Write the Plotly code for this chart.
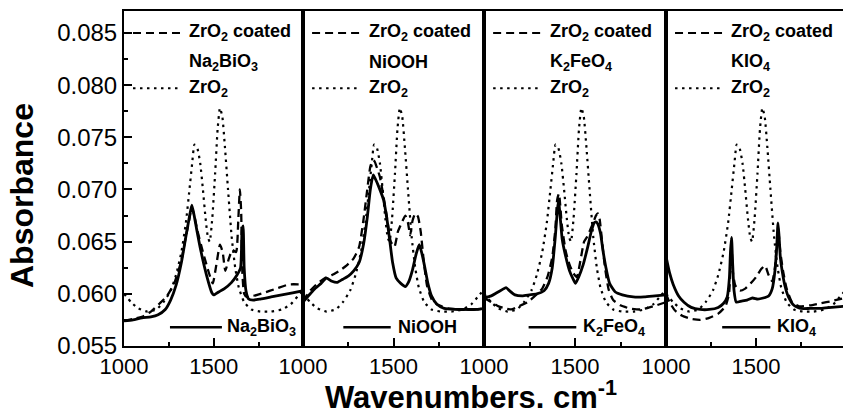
import plotly.graph_objects as go

# ---------------- data ----------------
panel_names = ["Na<sub>2</sub>BiO<sub>3</sub>", "NiOOH", "K<sub>2</sub>FeO<sub>4</sub>", "KIO<sub>4</sub>"]

# ZrO2 reference (dotted) - same in every panel
x_zro2 = [1000, 1040, 1080, 1130, 1180, 1220, 1260, 1290, 1320, 1345, 1365, 1380, 1393, 1408, 1425, 1440,
          1455, 1468, 1478, 1492, 1508, 1522, 1535, 1548, 1563, 1580, 1600, 1620, 1640, 1670, 1710, 1760,
          1820, 1880, 1930, 1970, 2000]
y_zro2 = [0.0600, 0.0592, 0.0586, 0.0583, 0.0585, 0.0592, 0.0603, 0.0618, 0.0640, 0.0668, 0.0700, 0.0725,
          0.0743, 0.0740, 0.0725, 0.0700, 0.0672, 0.0654, 0.0650, 0.0672, 0.0715, 0.0758, 0.0778, 0.0770,
          0.0740, 0.0700, 0.0655, 0.0625, 0.0606, 0.0592, 0.0585, 0.0583, 0.0583, 0.0585, 0.0590, 0.0598, 0.0604]

# Na2BiO3
x_na_solid = [1000, 1050, 1100, 1150, 1190, 1230, 1260, 1290, 1320, 1345, 1365, 1378, 1390, 1405, 1430, 1460,
              1490, 1500, 1530, 1560, 1600, 1630, 1650, 1658, 1664, 1670, 1680, 1695, 1720, 1760, 1820, 1880,
              1940, 2000]
y_na_solid = [0.0574, 0.0575, 0.0577, 0.0578, 0.0580, 0.0585, 0.0594, 0.0608, 0.0630, 0.0655, 0.0674, 0.0685,
              0.0676, 0.0662, 0.0640, 0.0618, 0.0601, 0.0599, 0.0602, 0.0605, 0.0611, 0.0618, 0.0625, 0.0660,
              0.0665, 0.0625, 0.0603, 0.0595, 0.0594, 0.0595, 0.0597, 0.0599, 0.0601, 0.0603]
x_na_dash = [1000, 1050, 1100, 1150, 1200, 1240, 1280, 1320, 1345, 1365, 1378, 1392, 1410, 1440, 1470, 1495,
             1515, 1535, 1550, 1565, 1585, 1605, 1625, 1637, 1646, 1653, 1660, 1670, 1685, 1720, 1780, 1850,
             1920, 1970, 2000]
y_na_dash = [0.0574, 0.0576, 0.0578, 0.0583, 0.0591, 0.0598, 0.0610, 0.0632, 0.0655, 0.0672, 0.0683, 0.0675,
             0.0660, 0.0640, 0.0622, 0.0610, 0.0628, 0.0647, 0.0640, 0.0622, 0.0634, 0.0642, 0.0640, 0.0670,
             0.0700, 0.0680, 0.0620, 0.0600, 0.0597, 0.0598, 0.0601, 0.0605, 0.0609, 0.0609, 0.0608]

# NiOOH
x_ni_solid = [1000, 1030, 1060, 1100, 1130, 1160, 1190, 1220, 1250, 1280, 1310, 1335, 1355, 1372, 1388, 1400,
              1420, 1445, 1465, 1480, 1495, 1515, 1540, 1565, 1585, 1605, 1625, 1642, 1655, 1670, 1690, 1710,
              1740, 1780, 1840, 1900, 1960, 2000]
y_ni_solid = [0.0592, 0.0598, 0.0604, 0.0610, 0.0615, 0.0612, 0.0611, 0.0614, 0.0617, 0.0622, 0.0630, 0.0648,
              0.0673, 0.0700, 0.0714, 0.0710, 0.0702, 0.0690, 0.0670, 0.0650, 0.0630, 0.0615, 0.0610, 0.0607,
              0.0612, 0.0623, 0.0638, 0.0647, 0.0640, 0.0628, 0.0610, 0.0598, 0.0590, 0.0586, 0.0585, 0.0585,
              0.0585, 0.0586]
x_ni_dash = [1000, 1040, 1080, 1120, 1160, 1200, 1240, 1280, 1310, 1335, 1355, 1372, 1385, 1395, 1410, 1425,
             1445, 1465, 1485, 1505, 1525, 1545, 1565, 1580, 1592, 1605, 1620, 1635, 1650, 1665, 1685, 1710,
             1740, 1800, 1880, 1960, 2000]
y_ni_dash = [0.0593, 0.0603, 0.0610, 0.0615, 0.0618, 0.0622, 0.0627, 0.0634, 0.0645, 0.0672, 0.0700, 0.0722,
             0.0728, 0.0727, 0.0720, 0.0712, 0.0693, 0.0672, 0.0650, 0.0645, 0.0660, 0.0668, 0.0675, 0.0668,
             0.0656, 0.0670, 0.0677, 0.0674, 0.0660, 0.0635, 0.0608, 0.0595, 0.0590, 0.0586, 0.0585, 0.0585,
             0.0586]

# K2FeO4
x_k_solid = [1000, 1040, 1070, 1100, 1121, 1140, 1170, 1210, 1250, 1290, 1330, 1355, 1375, 1392, 1403, 1410,
             1418, 1430, 1450, 1470, 1490, 1503, 1520, 1545, 1570, 1590, 1605, 1615, 1625, 1640, 1655, 1670,
             1690, 1720, 1760, 1820, 1880, 1940, 2000]
y_k_solid = [0.0596, 0.0598, 0.0601, 0.0604, 0.0606, 0.0603, 0.0599, 0.0598, 0.0599, 0.0600, 0.0603, 0.0610,
             0.0625, 0.0655, 0.0680, 0.0690, 0.0675, 0.0652, 0.0635, 0.0622, 0.0614, 0.0610, 0.0616, 0.0628,
             0.0645, 0.0660, 0.0668, 0.0669, 0.0667, 0.0658, 0.0640, 0.0625, 0.0610, 0.0602, 0.0599, 0.0597,
             0.0597, 0.0598, 0.0599]
x_k_dash = [1000, 1040, 1080, 1120, 1150, 1190, 1240, 1280, 1320, 1350, 1375, 1392, 1402, 1412, 1428, 1450,
            1470, 1490, 1510, 1530, 1550, 1568, 1585, 1600, 1615, 1625, 1635, 1650, 1665, 1685, 1710, 1750,
            1800, 1860, 1930, 2000]
y_k_dash = [0.0596, 0.0592, 0.0588, 0.0586, 0.0585, 0.0588, 0.0592, 0.0598, 0.0605, 0.0617, 0.0635, 0.0662,
            0.0690, 0.0696, 0.0665, 0.0640, 0.0628, 0.0620, 0.0616, 0.0632, 0.0650, 0.0655, 0.0662, 0.0668,
            0.0675, 0.0677, 0.0672, 0.0648, 0.0625, 0.0604, 0.0594, 0.0589, 0.0586, 0.0585, 0.0588, 0.0592]

# KIO4
x_kio_solid = [1000, 1020, 1040, 1070, 1100, 1140, 1190, 1240, 1290, 1320, 1340, 1352, 1358, 1364, 1370, 1378,
               1390, 1420, 1450, 1480, 1510, 1540, 1570, 1590, 1605, 1615, 1622, 1628, 1635, 1645, 1660, 1680,
               1710, 1750, 1800, 1860, 1920, 1990]
y_kio_solid = [0.0636, 0.0620, 0.0609, 0.0598, 0.0592, 0.0587, 0.0585, 0.0585, 0.0587, 0.0591, 0.0597, 0.0615,
               0.0640, 0.0654, 0.0630, 0.0603, 0.0592, 0.0593, 0.0594, 0.0596, 0.0595, 0.0596, 0.0598, 0.0605,
               0.0622, 0.0645, 0.0668, 0.0655, 0.0635, 0.0622, 0.0608, 0.0597, 0.0589, 0.0586, 0.0586, 0.0586,
               0.0587, 0.0588]
x_kio_dash = [1000, 1020, 1050, 1090, 1140, 1190, 1240, 1290, 1330, 1350, 1358, 1364, 1372, 1385, 1410, 1440,
              1470, 1500, 1530, 1550, 1570, 1590, 1605, 1615, 1624, 1635, 1650, 1670, 1700, 1740, 1800, 1860,
              1920, 1990]
y_kio_dash = [0.0600, 0.0592, 0.0584, 0.0579, 0.0576, 0.0575, 0.0577, 0.0581, 0.0588, 0.0600, 0.0625, 0.0645,
              0.0620, 0.0608, 0.0603, 0.0605, 0.0610, 0.0616, 0.0624, 0.0627, 0.0618, 0.0612, 0.0625, 0.0645,
              0.0660, 0.0640, 0.0622, 0.0605, 0.0592, 0.0588, 0.0589, 0.0591, 0.0593, 0.0596]

solid_x = [x_na_solid, x_ni_solid, x_k_solid, x_kio_solid]
solid_y = [y_na_solid, y_ni_solid, y_k_solid, y_kio_solid]
dash_x = [x_na_dash, x_ni_dash, x_k_dash, x_kio_dash]
dash_y = [y_na_dash, y_ni_dash, y_k_dash, y_kio_dash]

y_ticks = [0.055, 0.060, 0.065, 0.070, 0.075, 0.080, 0.085]
x_ticks = [1000, 1500]

# ---------------- layout ----------------
W, H = 843, 416
edges_px = [124, 303, 484, 666, 843]
x_ranges = [[1000, 1998], [1000, 2000], [1000, 2000], [1000, 1983]]
FONT = "Liberation Sans, Arial, sans-serif"
BLACK = "#000000"
DASH = "8px,5px"
DOT = "2.5px,4.5px"

fig = go.Figure()

for i in range(4):
    xa = "x" if i == 0 else f"x{i+1}"
    ya = "y" if i == 0 else f"y{i+1}"
    fig.add_trace(go.Scatter(x=x_zro2, y=y_zro2, xaxis=xa, yaxis=ya, mode="lines",
                             line=dict(color=BLACK, width=2.2, dash=DOT, shape="spline", smoothing=0.5),
                             showlegend=False, hoverinfo="skip"))
    fig.add_trace(go.Scatter(x=dash_x[i], y=dash_y[i], xaxis=xa, yaxis=ya, mode="lines",
                             line=dict(color=BLACK, width=2.3, dash=DASH, shape="spline", smoothing=0.5),
                             showlegend=False, hoverinfo="skip"))
    fig.add_trace(go.Scatter(x=solid_x[i], y=solid_y[i], xaxis=xa, yaxis=ya, mode="lines",
                             line=dict(color=BLACK, width=2.8, shape="spline", smoothing=0.5),
                             showlegend=False, hoverinfo="skip"))

layout = dict(width=W, height=H, autosize=False, margin=dict(l=0, r=0, t=11, b=70, autoexpand=False),
              paper_bgcolor="white", plot_bgcolor="white", showlegend=False,
              font=dict(family=FONT, color=BLACK))

for i in range(4):
    xk = "xaxis" if i == 0 else f"xaxis{i+1}"
    yk = "yaxis" if i == 0 else f"yaxis{i+1}"
    ya = "y" if i == 0 else f"y{i+1}"
    xa = "x" if i == 0 else f"x{i+1}"
    layout[xk] = dict(domain=[edges_px[i] / W, edges_px[i + 1] / W], range=x_ranges[i], anchor=ya,
                      showline=True, linecolor=BLACK, linewidth=2, mirror=True, showgrid=False, zeroline=False,
                      tickmode="array", tickvals=x_ticks, ticktext=[str(v) for v in x_ticks],
                      ticks="inside", ticklen=8, tickwidth=1.5, tickcolor=BLACK, automargin=False,
                      tickfont=dict(family=FONT, size=22, color=BLACK),
                      minor=dict(tickmode="array", tickvals=[1250, 1750], ticks="inside", ticklen=4,
                                 tickwidth=1.5, tickcolor=BLACK, showgrid=False),
                      fixedrange=True)
    ydict = dict(domain=[0, 1], range=[0.055, 0.0871], anchor=xa, showgrid=False, zeroline=False,
                 showline=True, linecolor=BLACK, linewidth=2, mirror=(i < 3), fixedrange=True,
                 automargin=False)
    if i == 0:
        ydict.update(tickmode="array", tickvals=y_ticks, ticktext=[f"{v:.3f}" for v in y_ticks],
                     ticks="inside", ticklen=8, tickwidth=1.5, tickcolor=BLACK,
                     tickfont=dict(family=FONT, size=24, color=BLACK),
                     minor=dict(dtick=0.0025, tick0=0.055, ticks="inside", ticklen=4, tickwidth=1.5,
                                tickcolor=BLACK, showgrid=False))
    else:
        ydict.update(showticklabels=False, ticks="", matches="y")
    layout[yk] = ydict

fig.update_layout(**layout)

# ---------------- in-panel legends ----------------
px2d = 1000 / 179.5
bottom_legend = [(46, 98, 101), (40, 87, 92), (44, 91, 96), (56, 104, 109)]
txt_font = dict(family=FONT, size=18, color=BLACK)
for i in range(4):
    xa = "x" if i == 0 else f"x{i+1}"
    ya = "y" if i == 0 else f"y{i+1}"
    x0 = 1000 + 9 * px2d
    x1 = 1000 + 59 * px2d
    xt = 1000 + 63 * px2d
    fig.add_shape(type="line", xref=xa, yref=ya, x0=x0, x1=x1, y0=0.085, y1=0.085,
                  line=dict(color=BLACK, width=2, dash=DASH))
    fig.add_shape(type="line", xref=xa, yref=ya, x0=x0, x1=x1 - 4 * px2d, y0=0.0797, y1=0.0797,
                  line=dict(color=BLACK, width=2.2, dash=DOT))
    fig.add_annotation(xref=xa, yref=ya, x=xt, y=0.085, text="<b>ZrO<sub>2</sub> coated</b>",
                       showarrow=False, xanchor="left", yanchor="middle", font=txt_font)
    fig.add_annotation(xref=xa, yref=ya, x=xt, y=0.0822, text=f"<b>{panel_names[i]}</b>",
                       showarrow=False, xanchor="left", yanchor="middle", font=txt_font)
    fig.add_annotation(xref=xa, yref=ya, x=xt, y=0.0797, text="<b>ZrO<sub>2</sub></b>",
                       showarrow=False, xanchor="left", yanchor="middle", font=txt_font)
    a, b, t = bottom_legend[i]
    fig.add_shape(type="line", xref=xa, yref=ya, x0=1000 + a * px2d, x1=1000 + b * px2d,
                  y0=0.0568, y1=0.0568, line=dict(color=BLACK, width=2.4))
    fig.add_annotation(xref=xa, yref=ya, x=1000 + t * px2d, y=0.0568, text=f"<b>{panel_names[i]}</b>",
                       showarrow=False, xanchor="left", yanchor="middle", font=txt_font)

# axis titles
fig.add_annotation(xref="paper", yref="paper", x=471 / W, y=(346 - 395) / 335,
                   text="<b>Wavenumbers. cm<sup>-1</sup></b>", showarrow=False,
                   xanchor="center", yanchor="middle", font=dict(family=FONT, size=31, color=BLACK))
fig.add_annotation(xref="paper", yref="paper", x=22 / W, y=(346 - 196) / 335,
                   text="<b>Absorbance</b>", showarrow=False, textangle=-90,
                   xanchor="center", yanchor="middle", font=dict(family=FONT, size=32, color=BLACK))

fig.write_html("out.html")
